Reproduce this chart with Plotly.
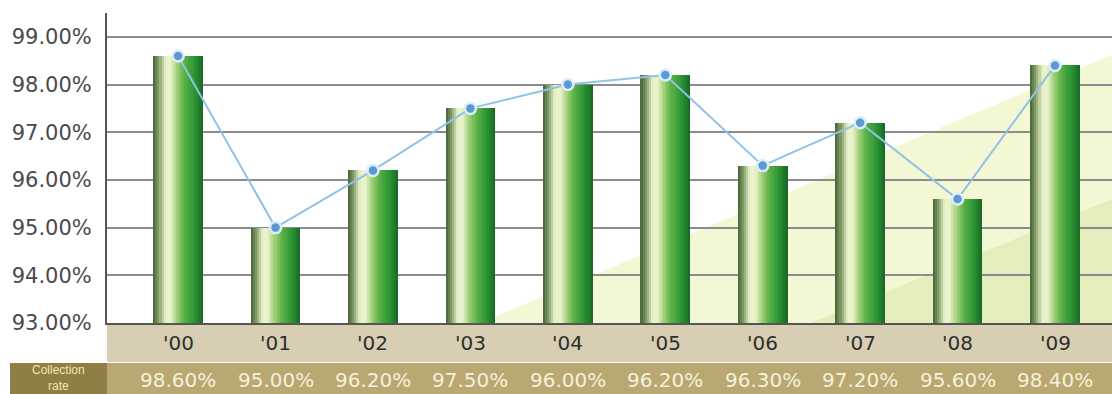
import plotly.graph_objects as go

# Yearly collection rate (%)
years = ["'00", "'01", "'02", "'03", "'04", "'05", "'06", "'07", "'08", "'09"]
rates = [98.6, 95.0, 96.2, 97.5, 98.0, 98.2, 96.3, 97.2, 95.6, 98.4]
rate_labels = ["98.60%", "95.00%", "96.20%", "97.50%", "96.00%",
               "96.20%", "96.30%", "97.20%", "95.60%", "98.40%"]
y_ticks = [93, 94, 95, 96, 97, 98, 99]

x_pos = list(range(len(years)))

# Cylinder shading across each bar (left -> right)
shade_stops = [
    (0.00, (70, 96, 52)),
    (0.10, (120, 150, 95)),
    (0.24, (232, 242, 200)),
    (0.34, (236, 244, 206)),
    (0.48, (160, 208, 120)),
    (0.62, (92, 178, 70)),
    (0.82, (44, 150, 52)),
    (1.00, (24, 104, 36)),
]


def shade(t):
    for (t0, c0), (t1, c1) in zip(shade_stops, shade_stops[1:]):
        if t0 <= t <= t1:
            f = (t - t0) / (t1 - t0) if t1 > t0 else 0
            return "rgb(%d,%d,%d)" % tuple(round(a + (b - a) * f) for a, b in zip(c0, c1))
    return "rgb(%d,%d,%d)" % shade_stops[-1][1]


fig = go.Figure()

bar_w = 0.51
n_strips = 24
strip = bar_w / n_strips
for k in range(n_strips):
    fig.add_trace(go.Bar(
        x=x_pos, y=rates,
        width=strip * 1.02, offset=-bar_w / 2 + k * strip,
        marker=dict(color=shade((k + 0.5) / n_strips), line=dict(width=0)),
        showlegend=False, hoverinfo="skip" if k else "y",
    ))

fig.add_trace(go.Scatter(
    x=x_pos, y=rates, mode="lines+markers",
    line=dict(color="#8ec3e6", width=2),
    marker=dict(size=11, color="#5a9ad2", line=dict(color="#dcedf9", width=2.5)),
    showlegend=False,
))

shapes = [
    # pale diagonal wash in the lower right of the plot
    dict(type="path", xref="paper", yref="y", layer="below",
         path="M 0.372 93 L 1 93 L 1 98.62 Z",
         fillcolor="#f4f7d4", line=dict(width=0)),
    dict(type="path", xref="paper", yref="y", layer="below",
         path="M 0.70 93 L 1 93 L 1 95.6 Z",
         fillcolor="#e5edbd", line=dict(width=0)),
    # category band under the axis
    dict(type="rect", xref="paper", yref="paper", layer="below",
         x0=0, x1=1, y0=-0.126, y1=-0.005,
         fillcolor="#d8ceb3", line=dict(width=0)),
    # value row band
    dict(type="rect", xref="paper", yref="paper", layer="below",
         x0=-0.0965, x1=1, y0=-0.23, y1=-0.129,
         fillcolor="#b9a872", line=dict(width=0)),
    dict(type="rect", xref="paper", yref="paper", layer="below",
         x0=-0.0965, x1=0, y0=-0.23, y1=-0.129,
         fillcolor="#8f7e46", line=dict(width=0)),
]

annotations = []
for xi, (yr, lab) in enumerate(zip(years, rate_labels)):
    annotations.append(dict(
        x=xi, y=-0.066, xref="x", yref="paper", text=yr, showarrow=False,
        font=dict(family="DejaVu Sans", size=20, color="#2e2e2e"),
        xanchor="center", yanchor="middle"))
    annotations.append(dict(
        x=xi, y=-0.185, xref="x", yref="paper", text=lab, showarrow=False,
        font=dict(family="DejaVu Sans", size=20, color="#f6f1d9"),
        xanchor="center", yanchor="middle"))
annotations.append(dict(
    x=-0.0485, y=-0.176, xref="paper", yref="paper",
    text="Collection<br>rate", showarrow=False, borderpad=0,
    font=dict(family="Liberation Sans", size=12, color="#f2e8ae"),
    xanchor="center", yanchor="middle", align="center"))

fig.update_layout(
    width=1112, height=394,
    margin=dict(l=107, r=0, t=13, b=71),
    paper_bgcolor="white", plot_bgcolor="white",
    barmode="overlay", bargap=0,
    shapes=shapes, annotations=annotations,
    xaxis=dict(range=[-0.73, 9.585], showticklabels=False, showgrid=False,
               zeroline=False, showline=True, linecolor="#555555", linewidth=2,
               fixedrange=True),
    yaxis=dict(range=[93, 99.5], tickvals=y_ticks,
               ticktext=["%.2f%%" % v for v in y_ticks],
               tickfont=dict(family="DejaVu Sans", size=21, color="#4a4a4a"),
               showgrid=True, gridcolor="#8c8c8c", gridwidth=2,
               zeroline=False, showline=True, linecolor="#555555", linewidth=2,
               ticks="", ticklabelstandoff=9, fixedrange=True),
)

fig.write_html("out.html")
